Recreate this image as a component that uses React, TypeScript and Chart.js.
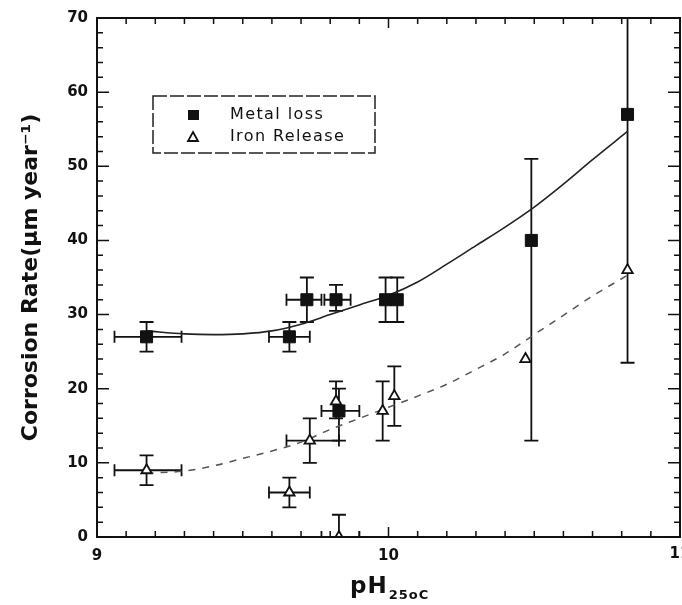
import React, { useEffect, useRef } from 'react';
import { Chart, registerables } from 'chart.js';

Chart.register(...registerables);

// ---------- data ----------
const xTickValues = [9, 10, 11];
const xTickLabels = ['9', '10', '11'];
const yTickValues = [0, 10, 20, 30, 40, 50, 60, 70];

const seriesLabels = ['Metal loss', 'Iron Release'];
const xAxisTitle = 'pH';
const xAxisSub = '25oC';
const yAxisTitle = 'Corrosion Rate(μm year⁻¹)';

const metalPH = [9.17, 9.66, 9.72, 9.82, 9.83, 9.99, 10.03, 10.49, 10.82];
const metalRate = [27, 27, 32, 32, 17, 32, 32, 40, 57];
const metalRateLo = [25, 25, 29, 30.5, 13, 29, 29, 13, 23.5];
const metalRateHi = [29, 29, 35, 34, 20, 35, 35, 51, 70];
const metalPHLo = [9.06, 9.59, 9.65, 9.78, 9.77, null, null, null, null];
const metalPHHi = [9.29, 9.73, 9.77, 9.87, 9.9, null, null, null, null];

const ironPH = [9.17, 9.66, 9.73, 9.82, 9.83, 9.98, 10.02, 10.47, 10.82];
const ironRate = [9, 6, 13, 18.3, 0, 17, 19, 24, 36];
const ironRateLo = [7, 4, 10, 16, 0, 13, 15, null, null];
const ironRateHi = [11, 8, 16, 21, 3, 21, 23, null, null];
const ironPHLo = [9.06, 9.59, 9.65, null, 9.77, null, null, null, null];
const ironPHHi = [9.29, 9.73, 9.83, null, 9.9, null, null, null, null];

const fitPH = [9.17, 9.3, 9.4, 9.5, 9.6, 9.7, 9.8, 9.9, 10.0, 10.1, 10.2, 10.3, 10.4, 10.5, 10.6, 10.7, 10.82];
const metalFitRate = [27.8, 27.4, 27.3, 27.4, 27.8, 28.7, 30.0, 31.3, 32.6, 34.4, 36.8, 39.3, 41.8, 44.5, 47.6, 50.9, 54.7];
const ironFitRate = [8.6, 8.9, 9.6, 10.6, 11.6, 12.8, 14.5, 16.0, 17.5, 19.0, 20.6, 22.6, 24.7, 27.3, 29.9, 32.5, 35.3];

const FONT = "'DejaVu Sans', 'Liberation Sans', sans-serif";
const TICK_FONT = `bold 15px ${FONT}`;

function points(xs, ys, yLo, yHi, xLo, xHi) {
  return xs.map((x, i) => ({ x, y: ys[i], yMin: yLo[i], yMax: yHi[i], xMin: xLo[i], xMax: xHi[i] }));
}

const errorBarPlugin = {
  id: 'errorBars',
  beforeDatasetsDraw(chart) {
    const { ctx, chartArea: a } = chart;
    const xs = chart.scales.x;
    const ys = chart.scales.y;
    ctx.save();
    ctx.beginPath();
    ctx.rect(a.left, a.top, a.right - a.left, a.bottom - a.top);
    ctx.clip();
    ctx.strokeStyle = '#111';
    ctx.lineWidth = 1.8;
    const cap = 7;
    chart.data.datasets.forEach((ds) => {
      if (!ds.errorBars) return;
      ds.data.forEach((p) => {
        const px = xs.getPixelForValue(p.x);
        const py = ys.getPixelForValue(p.y);
        ctx.beginPath();
        if (p.yMax != null) {
          const t = ys.getPixelForValue(p.yMax);
          ctx.moveTo(px, py); ctx.lineTo(px, t);
          ctx.moveTo(px - cap, t); ctx.lineTo(px + cap, t);
        }
        if (p.yMin != null) {
          const b = ys.getPixelForValue(p.yMin);
          ctx.moveTo(px, py); ctx.lineTo(px, b);
          ctx.moveTo(px - cap, b); ctx.lineTo(px + cap, b);
        }
        if (p.xMin != null) {
          const l = xs.getPixelForValue(p.xMin);
          ctx.moveTo(px, py); ctx.lineTo(l, py);
          ctx.moveTo(l, py - 6); ctx.lineTo(l, py + 6);
        }
        if (p.xMax != null) {
          const r = xs.getPixelForValue(p.xMax);
          ctx.moveTo(px, py); ctx.lineTo(r, py);
          ctx.moveTo(r, py - 6); ctx.lineTo(r, py + 6);
        }
        ctx.stroke();
      });
    });
    ctx.restore();
  },
};

const framePlugin = {
  id: 'frame',
  afterDatasetsDraw(chart) {
    const { ctx, chartArea: a } = chart;
    const xs = chart.scales.x;
    const ys = chart.scales.y;
    ctx.save();
    ctx.strokeStyle = '#111';
    ctx.lineWidth = 2;
    ctx.strokeRect(a.left, a.top, a.right - a.left, a.bottom - a.top);
    ctx.lineWidth = 1.5;
    ctx.beginPath();
    for (let v = ys.min; v <= ys.max + 1e-9; v += 2) {
      const py = ys.getPixelForValue(v);
      const len = Math.abs(v % 10) < 1e-6 ? 12 : 6;
      ctx.moveTo(a.left, py); ctx.lineTo(a.left + len, py);
      ctx.moveTo(a.right, py); ctx.lineTo(a.right - len, py);
    }
    for (let k = 0; k <= Math.round((xs.max - xs.min) * 10); k++) {
      const v = xs.min + k / 10;
      const px = xs.getPixelForValue(v);
      const len = k % 10 === 0 ? 10 : 6;
      ctx.moveTo(px, a.bottom); ctx.lineTo(px, a.bottom - len);
      ctx.moveTo(px, a.top); ctx.lineTo(px, a.top + len);
    }
    ctx.stroke();
    ctx.restore();
  },
  afterDraw(chart) {
    const { ctx, chartArea: a } = chart;
    const xs = chart.scales.x;
    ctx.save();
    ctx.fillStyle = '#111';

    // last x tick label (kept out of Chart.js layout so it may overhang the edge)
    const lastIdx = xTickValues.length - 1;
    ctx.font = TICK_FONT;
    ctx.textAlign = 'center';
    ctx.textBaseline = 'top';
    ctx.fillText(xTickLabels[lastIdx], xs.getPixelForValue(xTickValues[lastIdx]), a.bottom + 10);

    // x axis title with subscript
    ctx.textBaseline = 'alphabetic';
    ctx.textAlign = 'left';
    try { ctx.letterSpacing = '1px'; } catch (e) {}
    ctx.font = `bold 23px ${FONT}`;
    const mainW = ctx.measureText(xAxisTitle).width;
    ctx.fillText(xAxisTitle, 350, a.bottom + 56);
    ctx.font = `bold 13px ${FONT}`;
    ctx.fillText(xAxisSub, 350 + mainW + 1, a.bottom + 62);

    // legend
    const lx = 153, ly = 96, lw = 222, lh = 57;
    ctx.strokeStyle = '#222';
    ctx.lineWidth = 1.5;
    ctx.setLineDash([14, 3]);
    ctx.strokeRect(lx, ly, lw, lh);
    ctx.setLineDash([]);
    const mx = 193;
    const rows = [ly + 19, ly + 41];
    ctx.fillStyle = '#111';
    ctx.fillRect(mx - 5, rows[0] - 5, 11, 10);
    ctx.beginPath();
    ctx.moveTo(mx, rows[1] - 5);
    ctx.lineTo(mx + 5, rows[1] + 4);
    ctx.lineTo(mx - 5, rows[1] + 4);
    ctx.closePath();
    ctx.lineWidth = 1.8;
    ctx.strokeStyle = '#111';
    ctx.stroke();
    ctx.font = `16px ${FONT}`;
    ctx.textBaseline = 'middle';
    try { ctx.letterSpacing = '1.4px'; } catch (e) {}
    ctx.fillText(seriesLabels[0], 230, rows[0]);
    ctx.fillText(seriesLabels[1], 230, rows[1]);
    ctx.restore();
  },
};

export default function App() {
  const ref = useRef(null);
  useEffect(() => {
    const chart = new Chart(ref.current, {
      type: 'scatter',
      data: {
        datasets: [
          {
            label: seriesLabels[0],
            data: points(metalPH, metalRate, metalRateLo, metalRateHi, metalPHLo, metalPHHi),
            errorBars: true,
            pointStyle: 'rect',
            pointRadius: 8.5,
            backgroundColor: '#111',
            borderColor: '#111',
            borderWidth: 1,
          },
          {
            label: seriesLabels[1],
            data: points(ironPH, ironRate, ironRateLo, ironRateHi, ironPHLo, ironPHHi),
            errorBars: true,
            pointStyle: 'triangle',
            pointRadius: 6,
            backgroundColor: '#fff',
            borderColor: '#111',
            borderWidth: 1.8,
          },
          {
            label: 'Metal loss fit',
            type: 'line',
            data: fitPH.map((x, i) => ({ x, y: metalFitRate[i] })),
            showLine: true,
            pointRadius: 0,
            borderColor: '#222',
            borderWidth: 1.6,
            cubicInterpolationMode: 'monotone',
            fill: false,
          },
          {
            label: 'Iron Release fit',
            type: 'line',
            data: fitPH.map((x, i) => ({ x, y: ironFitRate[i] })),
            showLine: true,
            pointRadius: 0,
            borderColor: '#555',
            borderWidth: 1.5,
            borderDash: [7, 7],
            cubicInterpolationMode: 'monotone',
            fill: false,
          },
        ],
      },
      options: {
        animation: false,
        responsive: true,
        maintainAspectRatio: false,
        devicePixelRatio: 1,
        layout: { autoPadding: false, padding: { top: 18, right: 2, left: 0, bottom: 0 } },
        plugins: { legend: { display: false }, tooltip: { enabled: false } },
        scales: {
          x: {
            type: 'linear',
            min: 9,
            max: 11,
            grid: { display: false, drawTicks: false },
            border: { display: false },
            afterBuildTicks: (s) => { s.ticks = xTickValues.map((v) => ({ value: v })); },
            ticks: {
              padding: 10,
              maxRotation: 0,
              autoSkip: false,
              color: '#111',
              font: { family: FONT, size: 15, weight: 'bold' },
              callback: (v) => {
                const i = xTickValues.indexOf(v);
                return i === xTickValues.length - 1 ? '' : (xTickLabels[i] ?? '');
              },
            },
            afterFit: (s) => { s.height = 68; s.paddingLeft = 0; s.paddingRight = 0; },
          },
          y: {
            type: 'linear',
            min: 0,
            max: 70,
            grid: { display: false, drawTicks: false },
            border: { display: false },
            afterBuildTicks: (s) => { s.ticks = yTickValues.map((v) => ({ value: v })); },
            ticks: {
              padding: 9,
              color: '#111',
              font: { family: FONT, size: 15, weight: 'bold' },
            },
            title: {
              display: true,
              text: yAxisTitle,
              color: '#111',
              font: { family: FONT, size: 22, weight: 'bold' },
              padding: { top: 18, bottom: 0 },
            },
            afterFit: (s) => { s.width = 97; s.paddingTop = 0; s.paddingBottom = 0; },
          },
        },
      },
      plugins: [errorBarPlugin, framePlugin],
    });
    return () => chart.destroy();
  }, []);
  return (
    <div style={{ position: 'fixed', left: 0, top: 0, width: 682, height: 605, background: '#fff' }}>
      <canvas ref={ref} />
    </div>
  );
}
